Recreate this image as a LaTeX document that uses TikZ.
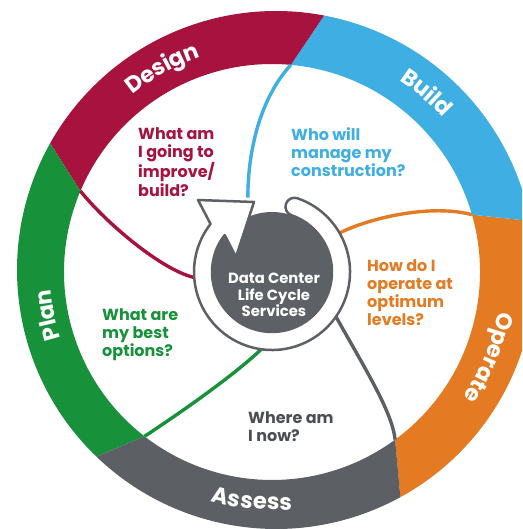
\documentclass[tikz,border=0pt]{standalone}
\usepackage{fontspec}
\newfontfamily\gfont{Poppins}
\usepackage{tikz}
\usetikzlibrary{calc,decorations.text}
\definecolor{design1}{HTML}{A8123F}
\definecolor{build1}{HTML}{3FAEE3}
\definecolor{operate1}{HTML}{E47B22}
\definecolor{assess1}{HTML}{5C5F64}
\definecolor{plan1}{HTML}{17923A}
\definecolor{hub1}{HTML}{5D6065}
\definecolor{where1}{HTML}{4B4E53}

\newcommand\qfont{\gfont\bfseries\fontsize{16}{18.3}\selectfont}
\newcommand\hubfont{\gfont\bfseries\fontsize{14.8}{16.8}\selectfont}
\newcommand\lblfont{\gfont\bfseries\fontsize{22.5}{24}\selectfont}

\begin{document}
\begin{tikzpicture}[
    x=1pt, y=1pt,
    question/.style={anchor=north west, align=left, inner sep=0pt, font=\qfont},
    hubdisc/.style={circle, fill=hub1, minimum size=120pt, inner sep=0pt},
    hubtext/.style={align=center, inner sep=0pt, text=white, font=\hubfont},
    spoke/.style={line width=3.4pt},
    ringlabel/.style={decorate, decoration={text along path, text align=center,
                      text color=white, raise=-7pt, text={|\lblfont|#1}}},
]
\useasboundingbox (-272,-257) rectangle (250,272);
\clip (-272,-257) rectangle (250,272);

% outer ring, one piece per phase
\fill[operate1] (-53.7:208pt) arc[start angle=-53.7, end angle=16, radius=208pt]
    -- ($(4,2)+(10.9:259pt)$) arc[start angle=10.9, end angle=-61.3, radius=259pt] -- cycle;
\fill[build1] (16:208pt) arc[start angle=16, end angle=84.8, radius=208pt]
    -- ($(4,2)+(79.3:259pt)$) arc[start angle=79.3, end angle=10.9, radius=259pt] -- cycle;
\fill[design1] (84.8:208pt) arc[start angle=84.8, end angle=157.1, radius=208pt]
    -- ($(4,2)+(150.7:259pt)$) arc[start angle=150.7, end angle=79.3, radius=259pt] -- cycle;
\fill[plan1] (157.1:208pt) arc[start angle=157.1, end angle=232.2, radius=208pt]
    -- ($(4,2)+(226.1:259pt)$) arc[start angle=226.1, end angle=150.7, radius=259pt] -- cycle;
\fill[assess1] (232.2:208pt) arc[start angle=232.2, end angle=306.3, radius=208pt]
    -- ($(4,2)+(298.7:259pt)$) arc[start angle=298.7, end angle=226.1, radius=259pt] -- cycle;

% phase names along the ring
\path[ringlabel=Design] ($(4,2)+(149.4:233pt)$) arc[start angle=149.4, end angle=89.4, radius=233pt];
\path[ringlabel=Build] ($(4,2)+(79.6:233pt)$) arc[start angle=79.6, end angle=19.6, radius=233pt];
\path[ringlabel=Operate] ($(4,2)+(7.6:233pt)$) arc[start angle=7.6, end angle=-52.4, radius=233pt];
\path[ringlabel=Assess] ($(4,2)+(-126:233pt)$) arc[start angle=-126, end angle=-66, radius=233pt];
\path[ringlabel=Plan] ($(4,2)+(221.2:233pt)$) arc[start angle=221.2, end angle=161.2, radius=233pt];

% where the ring pieces meet the white area
\coordinate (pd) at (157.1:208pt);
\coordinate (db) at (84.8:208pt);
\coordinate (bo) at (16:208pt);
\coordinate (oa) at (-53.7:208pt);
\coordinate (ap) at (232.2:208pt);
\node[circle, minimum size=156pt, inner sep=0pt] (loop) at (0,0) {};

% dividers into the hub
\draw[spoke, design1] (pd) .. controls (-165,48) and (-110,2) .. (loop.184);
\draw[spoke, build1] (db) .. controls (-8,178) and (-24,130) .. (loop.108);
\draw[spoke, operate1] (bo) .. controls (160,68) and (100,55) .. (loop.30);
\draw[spoke, assess1] (oa) .. controls (120,-140) and (95,-100) .. (loop.-35);
\draw[spoke, plan1] (ap) .. controls (-95,-143) and (-40,-105) .. (loop.-98);

% questions
\node[question, text=design1] (qdesign) at (-134,145) {What am\\I going to\\improve/\\build?};
\node[question, text=build1] (qbuild) at (19,145) {Who will\\manage my\\construction?};
\node[question, text=operate1] (qoperate) at (95,13) {How do I\\operate at\\optimum\\levels?};
\node[question, text=plan1] (qplan) at (-170,-36) {What are\\my best\\options?};
\node[question, text=where1] (qassess) at (-24,-139) {Where am\\I now?};

% hub with the circular arrow
\node[hubdisc] (hub) at (0,0) {};
\filldraw[fill=white, draw=hub1, line width=2.5pt, line join=round]
  (71:78pt) arc[start angle=71, end angle=-218, radius=78pt]
  -- (-74,72) -- (-18,70) -- (-36,15)
  -- (-218:60pt) arc[start angle=-218, end angle=71, radius=60pt]
  arc[start angle=251, end angle=71, radius=9pt] -- cycle;
\node[hubtext] (hubtext) at (2,-23) {Data Center\\Life Cycle\\Services};
\end{tikzpicture}
\end{document}
